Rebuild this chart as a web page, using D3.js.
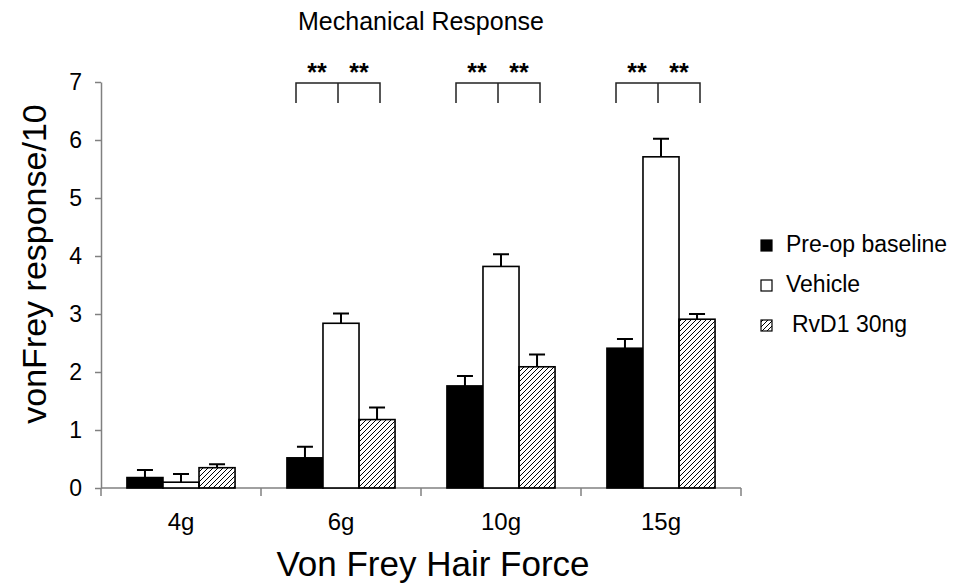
<!DOCTYPE html>
<meta charset="utf-8">
<head>
  <title>Mechanical Response</title>
  <script src="https://d3js.org/d3.v7.min.js"></script>
  <style type=text/css>
    body { margin: 0; background: #fff; font-family: "Liberation Sans", Arial, sans-serif; }
    text { fill: #000; }
  </style>
</head>
<body>
<div id="my_dataviz"></div>
<script>
// data
const categories = ["4g", "6g", "10g", "15g"];
const seriesNames = ["Pre-op baseline", "Vehicle", "RvD1 30ng"];
const preop      = [0.18, 0.52, 1.76, 2.41];
const preopErr   = [0.13, 0.19, 0.17, 0.16];
const vehicle    = [0.10, 2.84, 3.82, 5.71];
const vehicleErr = [0.14, 0.17, 0.21, 0.31];
const rvd1       = [0.35, 1.18, 2.09, 2.91];
const rvd1Err    = [0.06, 0.21, 0.21, 0.09];
const yTicks = [0, 1, 2, 3, 4, 5, 6, 7];
const signif = ["**", "**", "**", "**", "**", "**"]; // 6g, 10g, 15g: vs pre-op and vs RvD1
const signifGroups = ["6g", "10g", "15g"];

const width = 965, height = 587;
const margin = {top: 82, right: 224, bottom: 99, left: 101};

const svg = d3.select("#my_dataviz")
  .append("svg")
    .attr("width", width)
    .attr("height", height);

// hatch for the RvD1 bars
const defs = svg.append("defs");
defs.append("pattern")
    .attr("id", "hatch")
    .attr("patternUnits", "userSpaceOnUse")
    .attr("width", 5)
    .attr("height", 5)
  .append("path")
    .attr("d", "M-1,1 l2,-2 M0,5 l5,-5 M4,6 l2,-2")
    .attr("stroke", "#000")
    .attr("stroke-width", 1);

const fills = ["#000", "#fff", "url(#hatch)"];

// build rows
const rows = categories.map((c, i) => ({
  cat: c,
  vals: [
    {s: seriesNames[0], v: preop[i], e: preopErr[i]},
    {s: seriesNames[1], v: vehicle[i], e: vehicleErr[i]},
    {s: seriesNames[2], v: rvd1[i], e: rvd1Err[i]}
  ]
}));

// scales
const x = d3.scaleBand()
    .domain(categories)
    .range([margin.left, width - margin.right])
    .padding(0);

const x1 = d3.scaleBand()
    .domain(seriesNames)
    .range([0, x.bandwidth()])
    .paddingInner(0)
    .paddingOuter(0.72);

const y = d3.scaleLinear()
    .domain([0, 7])
    .range([height - margin.bottom, margin.top]);

// y axis
const yAxis = svg.append("g")
    .attr("transform", "translate(" + margin.left + ",0)")
    .call(d3.axisLeft(y).tickValues(yTicks).tickSize(6).tickSizeOuter(0).tickPadding(13).tickFormat(d3.format("d")));
yAxis.select(".domain").attr("stroke", "#808080").attr("stroke-width", 1.5);
yAxis.selectAll(".tick line").attr("stroke", "#808080").attr("stroke-width", 1.5);
yAxis.selectAll(".tick text")
    .style("font-size", "23px")
    .style("font-family", "'Liberation Sans', Arial, sans-serif");

// x axis: boundary ticks + centered labels
const xg = svg.append("g").attr("transform", "translate(0," + y(0) + ")");
xg.append("line")
    .attr("x1", x.range()[0]).attr("x2", x.range()[1])
    .attr("stroke", "#808080").attr("stroke-width", 1.5);
const bounds = categories.map(c => x(c)).concat([x.range()[1]]);
xg.selectAll(".btick")
  .data(bounds)
  .enter()
  .append("line")
    .attr("class", "btick")
    .attr("x1", d => d).attr("x2", d => d)
    .attr("y1", 0).attr("y2", 8)
    .attr("stroke", "#808080").attr("stroke-width", 1.5);
xg.selectAll(".xlab")
  .data(categories)
  .enter()
  .append("text")
    .attr("class", "xlab")
    .attr("x", d => x(d) + x.bandwidth() / 2)
    .attr("y", 42)
    .attr("text-anchor", "middle")
    .style("font-size", "24px")
    .text(d => d);

// bars
const groups = svg.append("g")
  .selectAll("g")
  .data(rows)
  .enter()
  .append("g")
    .attr("transform", d => "translate(" + x(d.cat) + ",0)");

groups.selectAll("rect")
  .data(d => d.vals)
  .enter()
  .append("rect")
    .attr("x", d => x1(d.s))
    .attr("y", d => y(d.v))
    .attr("width", x1.bandwidth())
    .attr("height", d => y(0) - y(d.v))
    .attr("fill", (d, i) => fills[i])
    .attr("stroke", "#000")
    .attr("stroke-width", 1.6);

// error bars (upper only)
groups.selectAll(".err")
  .data(d => d.vals)
  .enter()
  .append("path")
    .attr("class", "err")
    .attr("fill", "none")
    .attr("stroke", "#000")
    .attr("stroke-width", 2)
    .attr("d", d => {
      const cx = x1(d.s) + x1.bandwidth() / 2;
      return "M" + cx + "," + y(d.v) + "V" + y(d.v + d.e) + "M" + (cx - 8) + "," + y(d.v + d.e) + "H" + (cx + 8);
    });

// significance brackets
const half = 42;
const br = svg.append("g")
  .selectAll("g")
  .data(signifGroups)
  .enter()
  .append("g")
    .attr("transform", d => "translate(" + (x(d) + x.bandwidth() / 2 - 3) + ",0)");

br.append("path")
    .attr("fill", "none")
    .attr("stroke", "#222")
    .attr("stroke-width", 1.5)
    .attr("d", "M" + (-half) + "," + y(6.64) + "V" + (y(7) + 1) + "H" + half + "V" + y(6.64)
             + "M0," + (y(7) + 1) + "V" + y(6.64));

br.selectAll("text")
  .data((d, i) => [signif[i * 2], signif[i * 2 + 1]])
  .enter()
  .append("text")
    .attr("x", (d, i) => i === 0 ? -half / 2 : half / 2)
    .attr("y", y(7) - 1)
    .attr("text-anchor", "middle")
    .style("font-size", "25px")
    .style("font-weight", "bold")
    .text(d => d);

// title
svg.append("text")
    .attr("x", (x.range()[0] + x.range()[1]) / 2)
    .attr("y", 30)
    .attr("text-anchor", "middle")
    .style("font-size", "25px")
    .text("Mechanical Response");

// axis titles
svg.append("text")
    .attr("x", 433)
    .attr("y", 576)
    .attr("text-anchor", "middle")
    .style("font-size", "35px")
    .text("Von Frey Hair Force");

svg.append("text")
    .attr("transform", "translate(46,264) rotate(-90)")
    .attr("text-anchor", "middle")
    .style("font-size", "34px")
    .text("vonFrey response/10");

// legend
const legend = svg.append("g")
  .selectAll("g")
  .data(seriesNames)
  .enter()
  .append("g")
    .attr("transform", (d, i) => "translate(761," + (252 + i * 40) + ")");

legend.append("rect")
    .attr("x", 0)
    .attr("y", -12)
    .attr("width", 11)
    .attr("height", 11)
    .attr("fill", (d, i) => fills[i])
    .attr("stroke", "#000")
    .attr("stroke-width", 1.2);

legend.append("text")
    .attr("x", (d, i) => i === 2 ? 31 : 25)
    .attr("y", 0)
    .style("font-size", "23px")
    .text(d => d);
</script>
</body>
